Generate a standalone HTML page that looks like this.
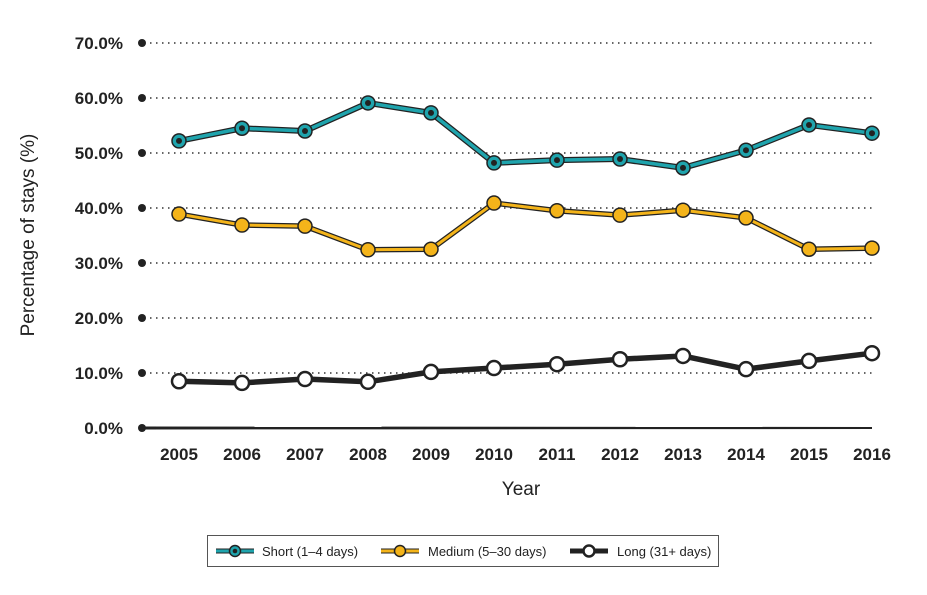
<!DOCTYPE html>
<html><head><meta charset="utf-8"><style>
body{margin:0;background:#fff;}
svg text{font-family:"Liberation Sans Narrow","Liberation Sans",sans-serif;}
</style></head><body>
<svg id="c" width="927" height="590" xmlns="http://www.w3.org/2000/svg">
<g id="grid"></g><g id="series"></g>
<text x="34" y="235" transform="rotate(-90 34 235)" text-anchor="middle" font-size="19" fill="#222">Percentage of stays (%)</text>
<text x="521" y="495" text-anchor="middle" font-size="19" fill="#222">Year</text>
<g>
<rect x="207.5" y="535.5" width="511" height="31" fill="#fff" stroke="#555"/>
<g><line x1="216" y1="551" x2="254" y2="551" stroke="#222" stroke-width="5"/><line x1="216" y1="551" x2="254" y2="551" stroke="#1fa4ad" stroke-width="3"/><circle cx="235" cy="551" r="5.5" fill="#1fa4ad" stroke="#222" stroke-width="1.5"/><circle cx="235" cy="551" r="2.3" fill="#222"/><text x="262" y="556" font-size="13" fill="#222">Short (1–4 days)</text></g>
<g><line x1="381" y1="551" x2="419" y2="551" stroke="#222" stroke-width="5"/><line x1="381" y1="551" x2="419" y2="551" stroke="#f4b41a" stroke-width="3"/><circle cx="400" cy="551" r="5.5" fill="#f4b41a" stroke="#222" stroke-width="1.5"/><text x="428" y="556" font-size="13" fill="#222">Medium (5–30 days)</text></g>
<g><line x1="570" y1="551" x2="608" y2="551" stroke="#222" stroke-width="5"/><circle cx="589" cy="551" r="5.5" fill="#fff" stroke="#222" stroke-width="2.5"/><text x="617" y="556" font-size="13" fill="#222">Long (31+ days)</text></g>
</g>
</svg>
<script>
const years=[2005,2006,2007,2008,2009,2010,2011,2012,2013,2014,2015,2016];
const shortVals=[52.2,54.5,54.0,59.1,57.3,48.2,48.7,48.9,47.3,50.5,55.1,53.6];
const mediumVals=[38.9,36.9,36.7,32.4,32.5,40.9,39.5,38.7,39.6,38.2,32.5,32.7];
const longVals=[8.5,8.2,8.9,8.4,10.2,10.9,11.6,12.5,13.1,10.7,12.2,13.6];
const yTicks=[0,10,20,30,40,50,60,70];
const NS="http://www.w3.org/2000/svg";
const xS=i=>179+i*63;
const yS=v=>428-v*5.5;
function mk(tag,attrs,parent){const e=document.createElementNS(NS,tag);for(const k in attrs)e.setAttribute(k,attrs[k]);parent.appendChild(e);return e;}
const grid=document.getElementById('grid'),ser=document.getElementById('series'),svg=document.getElementById('c');
yTicks.forEach(t=>{
  const y=yS(t);
  if(t>0){const l=mk('line',{x1:150,y1:y,x2:874,y2:y,stroke:'#333','stroke-width':1.5,'stroke-dasharray':'1.5 4.5'},grid);
  
  }
  const d=mk('circle',{cx:142,cy:y,r:4,fill:'#222'},grid);
  
  
  const tx=mk('text',{x:123,y:y+6,'text-anchor':'end','font-size':17,'font-weight':'bold',fill:'#222'},grid);
  tx.textContent=t.toFixed(1)+'%';
  
  
});
const base=mk('polygon',{points:`142,426.5 ${xS(11)},427 ${xS(11)},429 142,429.5`,fill:'#222'},grid);


years.forEach((yr,i)=>{
  const tx=mk('text',{x:xS(i),y:460,'text-anchor':'middle','font-size':17,'font-weight':'bold',fill:'#222'},grid);
  tx.textContent=yr;
  
  
});
function series(vals,name,color,fill,dot,w){
  const pts=vals.map((v,i)=>xS(i)+','+yS(v)).join(' ');
  const g=mk('g',{},ser);
  
  
  mk('polyline',{points:pts,fill:'none',stroke:'#222','stroke-width':w+2.5,'stroke-linejoin':'round'},g);
  if(color)mk('polyline',{points:pts,fill:'none',stroke:color,'stroke-width':w,'stroke-linejoin':'round'},g);
  vals.forEach((v,i)=>{
    const c=mk('circle',{cx:xS(i),cy:yS(v),r:7,fill:fill,stroke:'#222','stroke-width':name==='long'?2.5:1.5},g);
    
    
    if(dot)mk('circle',{cx:xS(i),cy:yS(v),r:3,fill:'#222'},g);
  });
}
series(shortVals,'short','#1fa4ad','#1fa4ad',true,3.5);
series(mediumVals,'medium','#f4b41a','#f4b41a',false,3);
series(longVals,'long',null,'#fff',false,3);
</script>
</body></html>
